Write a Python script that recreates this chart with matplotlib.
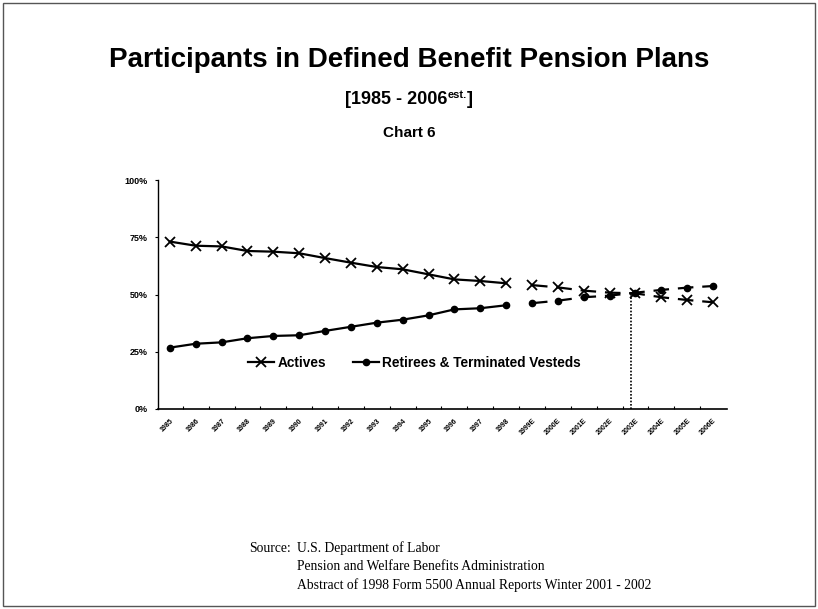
import numpy as np
import matplotlib
matplotlib.use("Agg")
import matplotlib.pyplot as plt
from matplotlib.patches import Rectangle
from matplotlib.ticker import FixedLocator

plt.rcParams['font.family'] = ['Liberation Sans', 'DejaVu Sans']

years = ["1985", "1986", "1987", "1988", "1989", "1990", "1991", "1992", "1993",
         "1994", "1995", "1996", "1997", "1998", "1999E", "2000E", "2001E",
         "2002E", "2003E", "2004E", "2005E", "2006E"]
actives = [73.1, 71.3, 71.0, 69.0, 68.7, 68.0, 65.9, 63.9, 62.0, 61.0, 58.8,
           56.6, 55.9, 54.9, 54.1, 53.1, 51.7, 50.8, 50.5, 48.8, 47.6, 46.6]
retirees = [26.8, 28.5, 29.1, 30.9, 31.9, 32.2, 34.1, 35.9, 37.7, 39.0, 40.9,
            43.5, 44.0, 45.3, 46.2, 47.3, 48.8, 49.5, 50.8, 52.0, 53.0, 53.7]
n_actual = 14  # 1985..1998 actual, rest estimated
yticks = [0, 25, 50, 75, 100]
ytick_labels = ["0%", "25%", "50%", "75%", "100%"]

W, H = 818, 609
fig = plt.figure(figsize=(W/100, H/100), dpi=100)
ax = fig.add_axes([158/W, 1-409/H, (727-158)/W, (409-180)/H])

x = np.arange(len(years))
a = np.array(actives)
r = np.array(retirees)

kw_a = dict(color='black', marker='x', markersize=7, markeredgewidth=1.3, lw=1.6)
kw_r = dict(color='black', marker='o', markersize=4.5, lw=1.6)
ax.plot(x[:n_actual], a[:n_actual], label='Actives', **kw_a)
ax.plot(x[:n_actual], r[:n_actual], label='Retirees & Terminated Vesteds', **kw_r)
ax.plot(x[n_actual:], a[n_actual:], linestyle=(0, (7, 4)), **kw_a)
ax.plot(x[n_actual:], r[n_actual:], linestyle=(0, (7, 4)), **kw_r)

# crossover vertical dotted line
d = a - r
i = int(np.where((d[:-1] > 0) & (d[1:] <= 0))[0][0])
t = d[i] / (d[i] - d[i+1])
xc = x[i] + t
yc = a[i] + t * (a[i+1] - a[i])
ax.plot([xc, xc], [0, yc], color='black', lw=1.2, linestyle=(0, (1, 1)))

ax.set_xlim(-0.46, 21.54)
ax.set_ylim(0, 100)
ax.set_yticks(yticks)
ax.set_yticklabels(ytick_labels, fontsize=6.5, fontweight='bold')
ax.set_xticks(x)
ax.set_xticklabels(years, rotation=45, ha='right', rotation_mode='anchor',
                   fontsize=5, fontweight='bold')
ax.tick_params(axis='x', length=0, pad=6)
ax.tick_params(axis='y', length=2.5, width=0.8, direction='out', pad=5)
ax.xaxis.set_minor_locator(FixedLocator(x[:-1] + 0.5))
ax.tick_params(axis='x', which='minor', direction='in', length=2, width=0.8)
for s in ['top', 'right']:
    ax.spines[s].set_visible(False)
ax.spines['left'].set_linewidth(1.0)
ax.spines['bottom'].set_linewidth(1.2)

ax.legend(loc='center', bbox_to_anchor=(0.451, 0.20), ncol=2, frameon=False,
          prop={'weight': 'bold', 'size': 9.8}, handlelength=1.9,
          columnspacing=2.0, handletextpad=0.25)

# Titles
fig.text(0.5, 1-67/H, "Participants in Defined Benefit Pension Plans",
         ha='center', va='baseline', fontsize=20, fontweight='bold')

# subtitle with superscript, placed piecewise and centred
fig.canvas.draw()
rend = fig.canvas.get_renderer()
sub_base = 1-104/H
pieces = [("[1985 - 2006", 13, 0.0), ("est.", 8, 6.0), ("]", 13, 0.0)]
objs = []
widths = []
for txt, fs, rise in pieces:
    o = fig.text(0, sub_base + rise/H, txt, ha='left', va='baseline',
                 fontsize=fs, fontweight='bold')
    objs.append(o)
    widths.append(o.get_window_extent(rend).width)
total = sum(widths)
xpos = W/2 - total/2
for o, w in zip(objs, widths):
    o.set_x(xpos / W)
    xpos += w

fig.text(0.5, 1-137/H, "Chart 6", ha='center', va='baseline',
         fontsize=11, fontweight='bold')

serif = ['Liberation Serif', 'DejaVu Serif']
fig.text(249/W, 1-548/H, "Source:", ha='left', va='center', fontsize=9.8, family=serif)
src_lines = ["U.S. Department of Labor",
             "Pension and Welfare Benefits Administration",
             "Abstract of 1998 Form 5500 Annual Reports Winter 2001 - 2002"]
for k, line in enumerate(src_lines):
    fig.text(297/W, 1-(548+18.5*k)/H, line, ha='left', va='center',
             fontsize=9.8, family=serif)

fig.patches.append(Rectangle((3/W, 3/H), 812/W, 603/H, transform=fig.transFigure,
                             fill=False, edgecolor='#555555', lw=1.0))

fig.savefig("out.png", dpi=100)
